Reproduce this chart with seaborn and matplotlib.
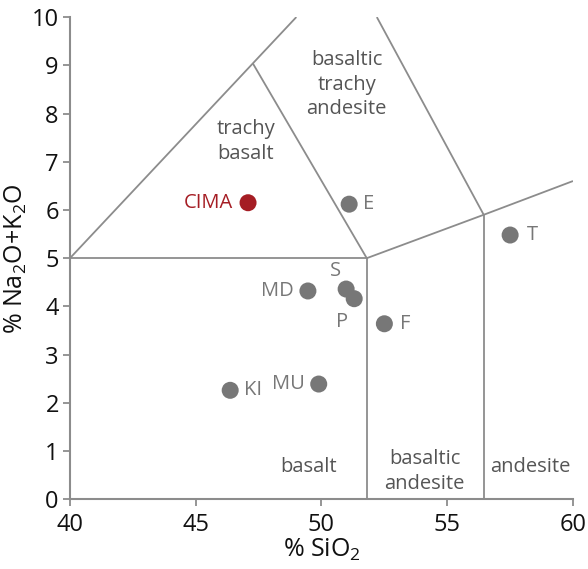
import matplotlib
matplotlib.use("Agg")
import matplotlib.pyplot as plt
import seaborn as sns
import pandas as pd

# Sample compositions (wt%)
samples = ["CIMA", "E", "T", "MD", "S", "P", "F", "MU", "KI"]
sio2 = [47.08, 51.1, 57.5, 49.46, 50.98, 51.3, 52.5, 49.89, 46.37]
alkali = [6.15, 6.12, 5.48, 4.32, 4.36, 4.16, 3.64, 2.39, 2.26]
group = ["CIMA", "other", "other", "other", "other", "other", "other", "other", "other"]

# Field boundary polylines (SiO2, Na2O+K2O)
boundaries = [
    [(40, 5), (49.0, 10)],
    [(47.27, 9.04), (51.8, 5)],
    [(40, 5), (51.8, 5)],
    [(51.8, 0), (51.8, 5)],
    [(51.8, 5), (56.45, 5.9), (60, 6.6)],
    [(56.45, 0), (56.45, 5.9)],
    [(56.45, 5.9), (52.2, 10)],
]

# Field names and their anchor positions
fields = ["trachy\nbasalt", "basaltic\ntrachy\nandesite", "basalt", "basaltic\nandesite", "andesite"]
field_x = [47.0, 51.0, 49.5, 54.1, 58.3]
field_y = [7.42, 8.6, 0.67, 0.58, 0.67]

# Label offsets for each sample (points)
label_dx = [-11, 10, 12, -10, -8, -9, 11, -10, 10]
label_dy = [0, 0, 0, 0, 13, -17, 0, 0, 0]
label_ha = ["right", "left", "left", "right", "center", "center", "left", "right", "left"]

df = pd.DataFrame({"sample": samples, "SiO2": sio2, "alkali": alkali, "group": group})

sns.set_theme(style="white")
plt.rcParams["font.family"] = ["Open Sans", "DejaVu Sans"]
plt.rcParams["mathtext.fontset"] = "custom"
plt.rcParams["mathtext.rm"] = "Open Sans"
plt.rcParams["mathtext.it"] = "Open Sans"

fig = plt.figure(figsize=(5.88, 5.69), dpi=100)
ax = fig.add_axes([0.119, 0.1225, 0.8555, 0.8475])

line_color = "#8c8c8c"
for seg in boundaries:
    xs = [p[0] for p in seg]
    ys = [p[1] for p in seg]
    ax.plot(xs, ys, color=line_color, lw=1.3, solid_capstyle="butt", zorder=1)

palette = {"CIMA": "#a51d24", "other": "#777777"}
sns.scatterplot(data=df, x="SiO2", y="alkali", hue="group", palette=palette,
                s=150, edgecolor="none", legend=False, ax=ax, zorder=3)

for name, x, y, dx, dy, ha in zip(samples, sio2, alkali, label_dx, label_dy, label_ha):
    col = "#a51d24" if name == "CIMA" else "#777777"
    ax.annotate(name, (x, y), xytext=(dx, dy), textcoords="offset points",
                ha=ha, va="center", fontsize=14.5, color=col)

for txt, x, y in zip(fields, field_x, field_y):
    ax.text(x, y, txt, ha="center", va="center", fontsize=14.5, color="#555555",
            linespacing=1.3)

ax.set_xlim(40, 60)
ax.set_ylim(0, 10)
ax.set_xticks([40, 45, 50, 55, 60])
ax.set_yticks(range(0, 11))
ax.set_xlabel("% SiO$_2$", fontsize=18, color="#111111", labelpad=0)
ax.set_ylabel("% Na$_2$O+K$_2$O", fontsize=18, color="#111111", labelpad=2)

sns.despine(ax=ax)
for side in ["left", "bottom"]:
    ax.spines[side].set_color(line_color)
    ax.spines[side].set_linewidth(1.5)
ax.tick_params(axis="both", which="major", direction="out", length=5, width=1.3,
               color=line_color, labelsize=17, labelcolor="#111111", pad=3,
               bottom=True, left=True)
ax.tick_params(axis="x", pad=5)

fig.savefig("out.png", dpi=100)
